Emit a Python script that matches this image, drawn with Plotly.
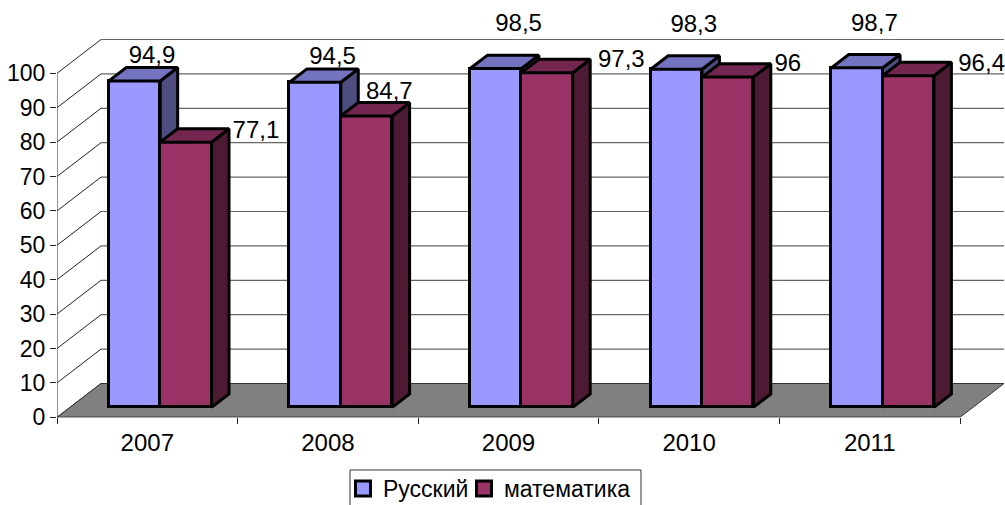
import plotly.graph_objects as go

years = ["2007", "2008", "2009", "2010", "2011"]
russian = [94.9, 94.5, 98.5, 98.3, 98.7]
math = [77.1, 84.7, 97.3, 96.0, 96.4]
russian_labels = ["94,9", "94,5", "98,5", "98,3", "98,7"]
math_labels = ["77,1", "84,7", "97,3", "96", "96,4"]
y_ticks = list(range(0, 101, 10))

# projection of the oblique 3D box (slot units / value units per unit of depth)
DX, DY = 44 / 180.6, 33.8 / 3.44
D0, D1 = 0.294, 0.69      # front and back depth of the bars
GROUP_L = 0.2157
W = 0.2843
FONT = "Liberation Sans, Arial, sans-serif"


def proj(u, v, d):
    return u + d * DX, v + d * DY


def poly(points, fill, line="black", width=3):
    xs, ys = [], []
    for u, v, d in points + points[:1]:
        x, y = proj(u, v, d)
        xs.append(x)
        ys.append(y)
    return dict(x=xs, y=ys, mode="lines", fill="toself", fillcolor=fill,
                line=dict(color=line, width=width), showlegend=False, hoverinfo="skip")


fig = go.Figure()

# walls and floor
for v in y_ticks:
    x0, y0 = proj(0, v, 0)
    x1, y1 = proj(0, v, 1)
    x2, y2 = proj(5, v, 1)
    fig.add_scatter(x=[x1, x2], y=[y1, y2], mode="lines", line=dict(color="#666666", width=1.2),
                    showlegend=False, hoverinfo="skip")
    fig.add_scatter(x=[x0, x1], y=[y0, y1], mode="lines", line=dict(color="#222222", width=1),
                    showlegend=False, hoverinfo="skip")
fig.add_scatter(**poly([(0, 0, 0), (5, 0, 0), (5, 0, 1), (0, 0, 1)], "#808080", "#333333", 1))
fig.add_scatter(x=[0, 0], y=[0, 100], mode="lines", line=dict(color="#222222", width=1),
                showlegend=False, hoverinfo="skip")
fig.add_scatter(x=[0, 5], y=[0, 0], mode="lines", line=dict(color="#222222", width=1),
                showlegend=False, hoverinfo="skip")


def add_series(name, values, labels, offset, front, top, side, axis, legend, positions, lifts, shift):
    xa, ya = "x" + axis, "y" + axis
    lefts = [i + GROUP_L + offset for i in range(len(values))]
    fig.add_bar(x=[l + W / 2 + D0 * DX for l in lefts], y=values, base=D0 * DY, width=W,
                showlegend=False, marker=dict(color=front, line=dict(color="black", width=3)),
                xaxis=xa, yaxis=ya, hoverinfo="skip")
    # legend key
    fig.add_scatter(x=[None], y=[None], mode="markers", name=name, legend=legend, showlegend=True,
                    marker=dict(symbol="square", size=15, color=front, line=dict(color="black", width=3)),
                    xaxis=xa, yaxis=ya, hoverinfo="skip")
    # labels below the faces, so a bar can cover part of a label
    tx, ty = [], []
    for l, v, p, lf, sh in zip(lefts, values, positions, lifts, shift):
        anchor = l + W if p == "middle right" else l + W / 2
        x, y = proj(anchor, v, D1)
        tx.append(x + sh)
        ty.append(y + lf)
    fig.add_scatter(x=tx, y=ty, mode="text", text=labels,
                    textposition=positions, textfont=dict(family=FONT, size=24, color="black"),
                    showlegend=False, hoverinfo="skip", xaxis=xa, yaxis=ya)
    for l, v in zip(lefts, values):
        r = l + W
        fig.add_scatter(**poly([(r, 0, D0), (r, 0, D1), (r, v, D1), (r, v, D0)], side), xaxis=xa, yaxis=ya)
        fig.add_scatter(**poly([(l, v, D0), (r, v, D0), (r, v, D1), (l, v, D1)], top), xaxis=xa, yaxis=ya)


add_series("Русский", russian, russian_labels, 0, "#9999FF", "#7373BF", "#4D4D80", "2", "legend",
           ["top center"] * 5, [-0.3, -0.3, 5.2, 5.2, 5.0], [0, 0, 0.03, 0, 0])
add_series("математика", math, math_labels, W, "#993366", "#732650", "#4D1A33", "3", "legend2",
           ["middle right", "top center", "middle right", "middle right", "middle right"],
           [-1.0, -0.8, -0.6, -0.3, -0.8], [0.02, 0.03, 0.043, 0.02, 0.038])

x_range = [0, 948 / 180.6]
y_range = [0, 417.3 / 3.44]
hidden = dict(visible=False, fixedrange=True)
legend_style = dict(orientation="h", y=38 / 505, yanchor="top", xanchor="left",
                    bgcolor="rgba(0,0,0,0)", borderwidth=0,
                    font=dict(family=FONT, size=23, color="black"), itemclick=False, itemdoubleclick=False)
fig.update_layout(
    width=1005, height=505, paper_bgcolor="white", plot_bgcolor="rgba(0,0,0,0)",
    margin=dict(l=0, r=0, t=0, b=0, pad=0, autoexpand=False),
    barmode="overlay", bargap=0,
    font=dict(family=FONT, size=23, color="black"),
    xaxis=dict(domain=[57 / 1005, 1], range=x_range, showgrid=False, zeroline=False, showline=False,
               tickmode="array", tickvals=[i + 0.5 for i in range(5)], ticktext=years,
               ticks="", ticklabelstandoff=9, tickfont=dict(size=24),
               minor=dict(tickmode="array", tickvals=list(range(6)), ticks="outside", ticklen=6,
                          tickwidth=1, tickcolor="#222222", showgrid=False)),
    yaxis=dict(domain=[(505 - 417.3) / 505, 1], range=y_range, showgrid=False, zeroline=False, showline=False,
               tickmode="array", tickvals=y_ticks, ticks="outside", ticklen=6, tickwidth=1,
               tickcolor="#222222", tickfont=dict(size=23)),
    xaxis2=dict(overlaying="x", matches="x", **hidden),
    yaxis2=dict(overlaying="y", matches="y", **hidden),
    xaxis3=dict(overlaying="x", matches="x", **hidden),
    yaxis3=dict(overlaying="y", matches="y", **hidden),
    legend=dict(x=343 / 1005, **legend_style),
    legend2=dict(x=464 / 1005, **legend_style),
    shapes=[dict(type="rect", xref="paper", yref="paper", x0=350 / 1005, x1=641 / 1005,
                 y0=-0.02, y1=35 / 505, line=dict(color="#333333", width=1), fillcolor="white")],
)

fig.write_html("out.html", config=dict(displayModeBar=False),
               post_script="document.body.style.margin='0';document.body.style.overflow='hidden';")
